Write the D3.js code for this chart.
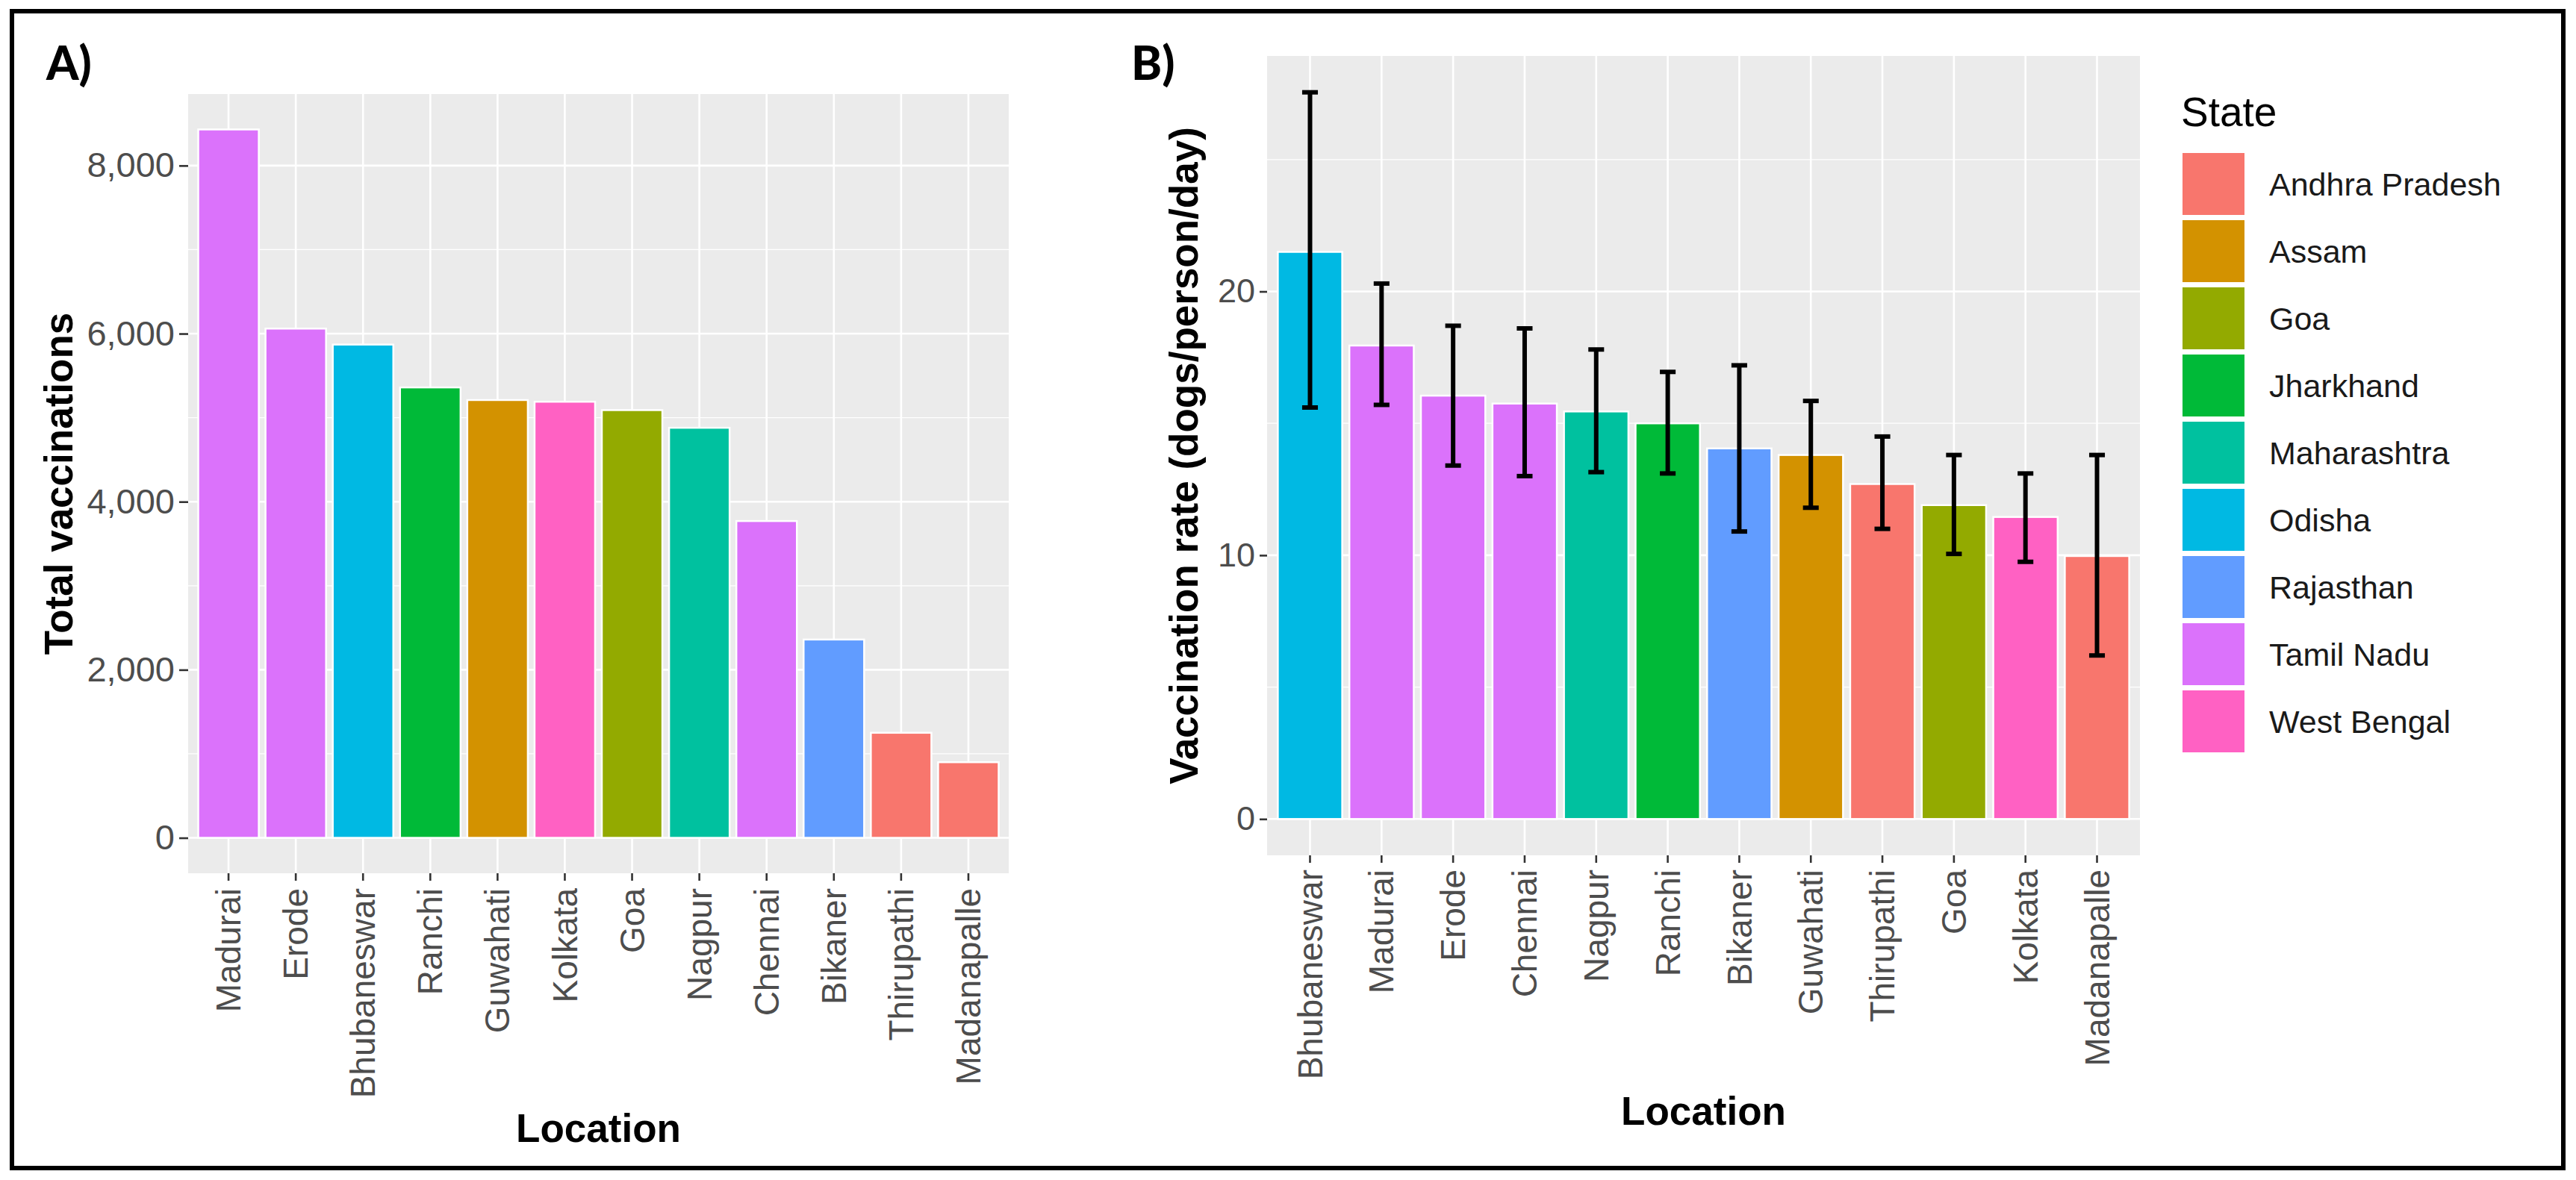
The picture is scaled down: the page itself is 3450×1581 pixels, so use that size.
<!DOCTYPE html>
<html>
<head>
<meta charset="utf-8">
<script src="https://cdn.jsdelivr.net/npm/d3@7"></script>
<style>
  body { margin: 0; background: #fff; }
  svg { display: block; }
  text { font-family: "Liberation Sans", Arial, sans-serif; }
</style>
</head>
<body>
<svg id="fig" width="3450" height="1581"></svg>
<script>
// Panel A: total vaccinations per location
var locationsA = ["Madurai", "Erode", "Bhubaneswar", "Ranchi", "Guwahati", "Kolkata",
                  "Goa", "Nagpur", "Chennai", "Bikaner", "Thirupathi", "Madanapalle"];
var totalA = [8430, 6060, 5870, 5360, 5210, 5190, 5090, 4880, 3770, 2360, 1250, 900];

// Panel B: vaccination rate with error bars
var locationsB = ["Bhubaneswar", "Madurai", "Erode", "Chennai", "Nagpur", "Ranchi",
                  "Bikaner", "Guwahati", "Thirupathi", "Goa", "Kolkata", "Madanapalle"];
var rateB = [21.5, 17.95, 16.05, 15.75, 15.45, 15.0, 14.05, 13.8, 12.7, 11.9, 11.45, 9.97];
var lowB  = [15.6, 15.7, 13.4, 13.0, 13.15, 13.1, 10.9, 11.8, 11.0, 10.05, 9.75, 6.2];
var highB = [27.55, 20.3, 18.7, 18.6, 17.8, 16.95, 17.2, 15.85, 14.5, 13.8, 13.1, 13.8];

// states (legend order) and ggplot hue colours
var states = ["Andhra Pradesh", "Assam", "Goa", "Jharkhand", "Maharashtra",
              "Odisha", "Rajasthan", "Tamil Nadu", "West Bengal"];
var stateColors = ["#F8766D", "#D39200", "#93AA00", "#00BA38", "#00C19F",
                   "#00B9E3", "#619CFF", "#DB72FB", "#FF61C3"];
var locationState = {
  "Madurai": "Tamil Nadu", "Erode": "Tamil Nadu", "Chennai": "Tamil Nadu",
  "Bhubaneswar": "Odisha", "Ranchi": "Jharkhand", "Guwahati": "Assam",
  "Kolkata": "West Bengal", "Goa": "Goa", "Nagpur": "Maharashtra",
  "Bikaner": "Rajasthan", "Thirupathi": "Andhra Pradesh", "Madanapalle": "Andhra Pradesh"
};

var yTicksA = [0, 2000, 4000, 6000, 8000];
var yMinorA = [1000, 3000, 5000, 7000];
var yTicksB = [0, 10, 20];
var yMinorB = [5, 15, 25];

var color = d3.scaleOrdinal().domain(states).range(stateColors);
var svg = d3.select("#fig");
var tickGrey = "#4D4D4D";

// outer frame
svg.append("rect")
  .attr("x", 16).attr("y", 15).attr("width", 3417).attr("height", 1550)
  .attr("fill", "none").attr("stroke", "#000").attr("stroke-width", 6);

function drawPanel(opt) {
  var g = svg.append("g");
  var x = d3.scaleBand().domain(opt.cats)
    .range([opt.left, opt.right]).paddingInner(0.1).paddingOuter(0.15);
  var step = x.step();
  var ymax = opt.ymax;
  var y = d3.scaleLinear().domain([-0.05 * ymax, 1.05 * ymax]).range([opt.bottom, opt.top]);

  // panel background
  g.append("rect")
    .attr("x", opt.left).attr("y", opt.top)
    .attr("width", opt.right - opt.left).attr("height", opt.bottom - opt.top)
    .attr("fill", "#EBEBEB");

  // grid
  g.selectAll(".minor").data(opt.minor).enter().append("line")
    .attr("x1", opt.left).attr("x2", opt.right)
    .attr("y1", function(d) { return y(d); }).attr("y2", function(d) { return y(d); })
    .attr("stroke", "#fff").attr("stroke-width", 1.3);
  g.selectAll(".major").data(opt.ticks).enter().append("line")
    .attr("x1", opt.left).attr("x2", opt.right)
    .attr("y1", function(d) { return y(d); }).attr("y2", function(d) { return y(d); })
    .attr("stroke", "#fff").attr("stroke-width", 2.6);
  g.selectAll(".vgrid").data(opt.cats).enter().append("line")
    .attr("x1", function(d) { return x(d) + x.bandwidth() / 2; })
    .attr("x2", function(d) { return x(d) + x.bandwidth() / 2; })
    .attr("y1", opt.top).attr("y2", opt.bottom)
    .attr("stroke", "#fff").attr("stroke-width", 2.6);

  // bars
  g.selectAll(".bar").data(opt.cats).enter().append("rect")
    .attr("x", function(d) { return x(d); })
    .attr("width", x.bandwidth())
    .attr("y", function(d, i) { return y(opt.values[i]); })
    .attr("height", function(d, i) { return y(0) - y(opt.values[i]); })
    .attr("fill", function(d) { return color(locationState[d]); })
    .attr("stroke", "#fff").attr("stroke-width", 2.5);

  // error bars
  if (opt.low) {
    var cap = step * 0.22;
    var eb = g.selectAll(".err").data(opt.cats).enter().append("g")
      .attr("stroke", "#000").attr("stroke-width", 6);
    eb.append("line")
      .attr("x1", function(d) { return x(d) + x.bandwidth() / 2; })
      .attr("x2", function(d) { return x(d) + x.bandwidth() / 2; })
      .attr("y1", function(d, i) { return y(opt.low[i]); })
      .attr("y2", function(d, i) { return y(opt.high[i]); });
    [opt.low, opt.high].forEach(function(arr) {
      eb.append("line")
        .attr("x1", function(d) { return x(d) + x.bandwidth() / 2 - cap / 2; })
        .attr("x2", function(d) { return x(d) + x.bandwidth() / 2 + cap / 2; })
        .attr("y1", function(d, i) { return y(arr[i]); })
        .attr("y2", function(d, i) { return y(arr[i]); });
    });
  }

  // y axis
  var ya = g.append("g").attr("transform", "translate(" + opt.left + ",0)")
    .call(d3.axisLeft(y).tickValues(opt.ticks).tickFormat(opt.fmt)
      .tickSize(opt.yTickLen).tickPadding(opt.yTickPad));
  ya.select(".domain").remove();
  ya.selectAll(".tick line").attr("stroke", "#333").attr("stroke-width", 2.6);
  ya.selectAll(".tick text").attr("fill", tickGrey)
    .style("font-size", opt.yFont + "px").style("font-family", "'Liberation Sans', Arial, sans-serif");

  // x axis
  var xa = g.append("g").attr("transform", "translate(0," + opt.bottom + ")")
    .call(d3.axisBottom(x).tickSize(opt.xTickLen).tickPadding(0));
  xa.select(".domain").remove();
  xa.selectAll(".tick line").attr("stroke", "#333").attr("stroke-width", 2.6);
  xa.selectAll(".tick text")
    .attr("fill", tickGrey)
    .attr("text-anchor", "end")
    .attr("transform", "translate(0," + opt.xLabPad + ") rotate(-90)")
    .attr("x", 0).attr("y", 0).attr("dy", "0.35em")
    .style("font-size", "46px").style("font-family", "'Liberation Sans', Arial, sans-serif");

  // titles
  g.append("text")
    .attr("transform", "translate(" + opt.yTitleX + "," + ((opt.top + opt.bottom) / 2) + ") rotate(-90)")
    .attr("text-anchor", "middle").attr("font-weight", "bold")
    .style("font-size", "53px").attr("fill", "#000")
    .text(opt.yTitle);
  g.append("text")
    .attr("x", (opt.left + opt.right) / 2).attr("y", opt.xTitleY)
    .attr("text-anchor", "middle").attr("font-weight", "bold")
    .style("font-size", "53px").attr("fill", "#000")
    .text("Location");
  g.append("text")
    .attr("x", opt.tagX).attr("y", 107)
    .attr("font-weight", "900").style("font-family", "Lato, 'Open Sans', sans-serif")
    .style("font-size", "62px").attr("fill", "#000")
    .text(opt.tag);
}

drawPanel({
  cats: locationsA, values: totalA, ymax: d3.max(totalA),
  left: 252, right: 1351, top: 126, bottom: 1170,
  ticks: yTicksA, minor: yMinorA, fmt: d3.format(","),
  yTickLen: 12, yTickPad: 6, yFont: 47,
  xTickLen: 10, xLabPad: 20,
  yTitle: "Total vaccinations", yTitleX: 97, xTitleY: 1530,
  tag: "A)", tagX: 62
});

drawPanel({
  cats: locationsB, values: rateB, low: lowB, high: highB, ymax: d3.max(highB),
  left: 1697, right: 2866, top: 75, bottom: 1146,
  ticks: yTicksB, minor: yMinorB, fmt: d3.format("d"),
  yTickLen: 10, yTickPad: 6, yFont: 45,
  xTickLen: 10, xLabPad: 19,
  yTitle: "Vaccination rate (dogs/person/day)", yTitleX: 1604, xTitleY: 1507,
  tag: "B)", tagX: 1515
});

// legend
var leg = svg.append("g");
leg.append("text")
  .attr("x", 2921).attr("y", 169)
  .style("font-size", "55px").attr("fill", "#000")
  .text("State");
var keyStep = 90, keySize = 83;
var items = leg.selectAll(".key").data(states).enter().append("g")
  .attr("transform", function(d, i) { return "translate(2923," + (205 + i * keyStep) + ")"; });
items.append("rect")
  .attr("width", keySize).attr("height", keySize)
  .attr("fill", function(d) { return color(d); });
items.append("text")
  .attr("x", 116).attr("y", keySize / 2).attr("dy", "0.36em")
  .style("font-size", "43px").attr("fill", "#1A1A1A")
  .text(function(d) { return d; });
</script>
</body>
</html>
